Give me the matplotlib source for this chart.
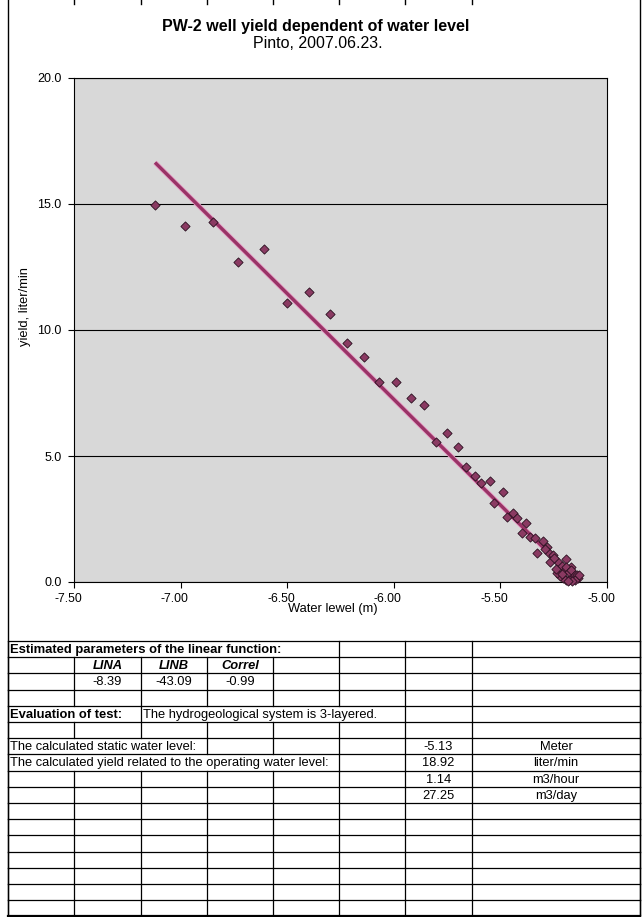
import matplotlib
matplotlib.use("Agg")
import matplotlib.pyplot as plt
import matplotlib.transforms as mtransforms
import numpy as np

plt.rcParams['font.family'] = ['Liberation Sans', 'DejaVu Sans']

level = [-7.12, -6.98, -6.85, -6.73, -6.61, -6.50, -6.40, -6.30, -6.22, -6.14,
         -6.07, -5.99, -5.92, -5.86, -5.80, -5.75, -5.70, -5.66, -5.62, -5.59,
         -5.55, -5.53, -5.49, -5.47, -5.44, -5.42, -5.38, -5.40, -5.36, -5.34,
         -5.30, -5.33, -5.28, -5.27, -5.19, -5.17, -5.255, -5.232, -5.213, -5.199,
         -5.190, -5.176, -5.167, -5.152, -5.143, -5.138, -5.152, -5.176, -5.194, -5.208,
         -5.222, -5.236, -5.129, -5.162, -5.185, -5.213, -5.241, -5.269, -5.29, -5.25]
yield_lpm = [14.96, 14.13, 14.29, 12.70, 13.21, 11.07, 11.51, 10.63, 9.48, 8.93,
             7.94, 7.94, 7.30, 7.02, 5.56, 5.91, 5.36, 4.56, 4.21, 3.93,
             4.01, 3.13, 3.57, 2.58, 2.74, 2.54, 2.34, 1.94, 1.79, 1.74,
             1.63, 1.15, 1.39, 1.15, 0.91, 0.60, 1.07, 0.79, 0.63, 0.48,
             0.60, 0.40, 0.48, 0.28, 0.28, 0.16, 0.08, 0.08, 0.08, 0.16,
             0.24, 0.36, 0.28, 0.02, 0.04, 0.32, 0.52, 0.79, 1.30, 0.95]

lina = -8.39
linb = -43.09
correl = -0.99
static_level = -5.13
yield_op = 18.92
yield_hour = 1.14
yield_day = 27.25

x_ticks = [-7.50, -7.00, -6.50, -6.00, -5.50, -5.00]
y_ticks = [0.0, 5.0, 10.0, 15.0, 20.0]

W, H = 644, 917
fig = plt.figure(figsize=(W / 100, H / 100), dpi=100)
fig.patch.set_facecolor('white')

# chart
ax = fig.add_axes([74 / W, 1 - 582 / H, (607 - 74) / W, (582 - 78) / H])
ax.set_facecolor('#d8d8d8')
ax.set_xlim(-7.5, -5.0)
ax.set_ylim(0, 20)
ax.set_xticks(x_ticks)
ax.set_xticklabels(['%.2f' % v for v in x_ticks])
ax.set_yticks(y_ticks)
ax.set_yticklabels(['%.1f' % v for v in y_ticks])
ax.tick_params(length=4, width=0.8, color='black')
ax.tick_params(axis='x', labelsize=8.8, pad=4)
ax.tick_params(axis='y', labelsize=9, pad=5)
# excel draws the x labels a bit left of their ticks
shift = mtransforms.ScaledTranslation(-6 / 100, 0, fig.dpi_scale_trans)
for lab in ax.get_xticklabels():
    lab.set_transform(lab.get_transform() + shift)
for s in ax.spines.values():
    s.set_color('black')
    s.set_linewidth(0.8)
ax.grid(axis='y', color='black', linewidth=0.8)
ax.set_axisbelow(True)

xfit = np.array([min(level), max(level)])
ax.plot(xfit, lina * xfit + linb, color='#e8a0c8', linewidth=3.6, solid_capstyle='butt', zorder=2)
ax.plot(xfit, lina * xfit + linb, color='#993366', linewidth=2.4, solid_capstyle='butt', zorder=3)
ax.scatter(level, yield_lpm, marker='D', s=22, color='#8a3a62', edgecolors='#2a1020',
           linewidths=0.6, zorder=4, clip_on=False)

ax.set_xlabel('Water lewel (m)', fontsize=9.3)
ax.xaxis.set_label_coords((333 - 74) / 533, (582 - 603) / 504)
ax.set_ylabel('yield, liter/min', fontsize=9.3)
ax.yaxis.set_label_coords((31 - 74) / 533, (582 - 307) / 504)

fig.text(316 / W, 1 - 26 / H, 'PW-2 well yield dependent of water level',
         ha='center', va='center', fontsize=11.5, fontweight='bold')
fig.text(318 / W, 1 - 44 / H, 'Pinto, 2007.06.23.',
         ha='center', va='center', fontsize=11.5)

# spreadsheet grid underneath
g = fig.add_axes([0, 0, 1, 1], zorder=-1)
g.set_xlim(0, W)
g.set_ylim(H, 0)
g.axis('off')

cols = [8, 74, 141, 207, 273, 339, 405, 472, 640]
top = 641
rh = 16.2
nrows = 17
bottom = top + rh * nrows - 1

# chart frame and top column marks
g.plot([8, 8], [0, bottom], color='black', lw=1)
g.plot([640, 640], [0, bottom], color='black', lw=1)
for c in cols[1:-1]:
    g.plot([c, c], [0, 4], color='black', lw=1)

# merged cells per row: column-boundary indices that are drawn
merges = {
    0: [0, 5, 6, 7, 8],
    4: [0, 2, 6, 7, 8],
    6: [0, 3, 4, 5, 6, 7, 8],
    7: [0, 5, 6, 7, 8],
}
for r in range(nrows + 1):
    y = top + r * rh
    lw = 1.6 if r == nrows else 0.9
    g.plot([8, 640], [y, y], color='black', lw=lw)
for r in range(nrows):
    y0, y1 = top + r * rh, top + (r + 1) * rh
    idx = merges.get(r, list(range(len(cols))))
    for i in idx:
        g.plot([cols[i], cols[i]], [y0, y1], color='black', lw=0.9)

def cell(r, x, s, ha='left', size=9.3, **kw):
    g.text(x, top + (r + 0.55) * rh, s, ha=ha, va='center', fontsize=size, **kw)

def mid(a, b):
    return 0.5 * (cols[a] + cols[b])

cell(0, 10, 'Estimated parameters of the linear function:', fontweight='bold', size=9.4)
cell(1, mid(1, 2), 'LINA', ha='center', fontweight='bold', style='italic')
cell(1, mid(2, 3), 'LINB', ha='center', fontweight='bold', style='italic')
cell(1, mid(3, 4), 'Correl', ha='center', fontweight='bold', style='italic')
cell(2, mid(1, 2), '%.2f' % lina, ha='center')
cell(2, mid(2, 3), '%.2f' % linb, ha='center')
cell(2, mid(3, 4), '%.2f' % correl, ha='center')
cell(4, 10, 'Evaluation of test:', fontweight='bold', size=9.4)
cell(4, 143, 'The hydrogeological system is 3-layered.')
cell(6, 10, 'The calculated static water level:')
cell(6, mid(6, 7), '%.2f' % static_level, ha='center')
cell(6, mid(7, 8), 'Meter', ha='center')
cell(7, 10, 'The calculated yield related to the operating water level:')
cell(7, mid(6, 7), '%.2f' % yield_op, ha='center')
cell(7, mid(7, 8), 'liter/min', ha='center')
cell(8, mid(6, 7), '%.2f' % yield_hour, ha='center')
cell(8, mid(7, 8), 'm3/hour', ha='center')
cell(9, mid(6, 7), '%.2f' % yield_day, ha='center')
cell(9, mid(7, 8), 'm3/day', ha='center')

fig.savefig('out.png', dpi=100)
